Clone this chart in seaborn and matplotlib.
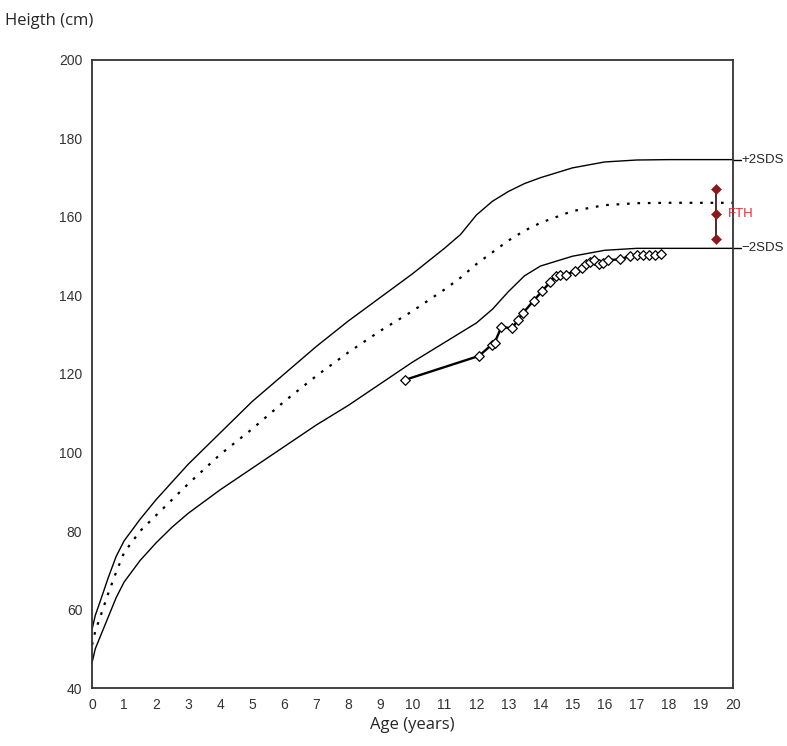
import numpy as np
import pandas as pd
import matplotlib
matplotlib.use("Agg")
import matplotlib.pyplot as plt
import seaborn as sns

# === REFERENCE CURVES ===
ref_age = [0, 0.1, 0.25, 0.5, 0.75, 1, 1.5, 2, 2.5, 3, 4, 5, 6, 7, 8, 9, 10, 11,
           11.5, 12, 12.5, 13, 13.5, 14, 15, 16, 17, 18, 20]
plus2sd = [55, 58.5, 62, 68, 73.5, 77.5, 83, 88, 92.5, 97, 105, 113, 120, 127,
           133.5, 139.5, 145.5, 152, 155.5, 160.5, 164, 166.5, 168.5, 170, 172.5,
           174, 174.5, 174.6, 174.6]
median = [51, 54.5, 58, 64, 69.5, 74.5, 80, 84, 88, 92, 99.5, 106, 113, 119.5,
          125.5, 131, 136, 141.5, 144.5, 148, 151, 154, 156.5, 158.5, 161.5, 163,
          163.5, 163.6, 163.6]
minus2sd = [46.5, 50, 53, 58, 63, 67, 72.5, 77, 81, 84.5, 90.5, 96, 101.5, 107,
            112, 117.5, 123, 128, 130.5, 133, 136.5, 141, 145, 147.5, 150, 151.5,
            152, 152, 152]

# === PATIENT MEASUREMENTS ===
pt_age = [9.77, 12.08, 12.47, 12.57, 12.78, 13.12, 13.29, 13.46, 13.79, 14.06,
          14.29, 14.47, 14.6, 14.79, 15.07, 15.31, 15.43, 15.54, 15.66, 15.82,
          15.95, 16.11, 16.47, 16.79, 17.0, 17.2, 17.39, 17.57, 17.77]
pt_height = [118.5, 124.6, 127.4, 128.0, 132.0, 131.6, 133.8, 135.6, 138.7, 141.2,
             143.3, 145.0, 145.2, 145.2, 146.3, 146.9, 148.0, 148.5, 149.0, 148.0,
             148.2, 149.0, 149.2, 150.0, 150.3, 150.3, 150.3, 150.3, 150.5]

# === TARGET HEIGHT (FTH) ===
fth_age = [19.47, 19.47, 19.47]
fth_height = [167.1, 160.8, 154.4]

sns.set_style("white")
plt.rcParams["font.family"] = ["Liberation Sans", "DejaVu Sans"]

fig = plt.figure(figsize=(7.87, 7.46), dpi=100)
ax = fig.add_axes([0.117, 0.0777, 0.814, 0.842])

ref = pd.DataFrame({"age": ref_age, "p2": plus2sd, "med": median, "m2": minus2sd})
sns.lineplot(data=ref, x="age", y="p2", ax=ax, color="black", lw=1.0)
sns.lineplot(data=ref, x="age", y="m2", ax=ax, color="black", lw=1.0)
sns.lineplot(data=ref, x="age", y="med", ax=ax, color="black", lw=1.6,
             linestyle=(0, (1.2, 3.5)))

# SDS lines run a little past the right axis
ax.plot([20, 20.25], [plus2sd[-1]] * 2, color="black", lw=1.0, clip_on=False)
ax.plot([20, 20.25], [minus2sd[-1]] * 2, color="black", lw=1.0, clip_on=False)
ax.text(20.28, plus2sd[-1], "+2SDS", va="center", ha="left", fontsize=9.5)
ax.text(20.28, minus2sd[-1], "\u22122SDS", va="center", ha="left", fontsize=9.5)

pts = pd.DataFrame({"age": pt_age, "h": pt_height})
ax.plot(pts["age"], pts["h"], color="black", lw=1.7, zorder=3)
sns.scatterplot(data=pts, x="age", y="h", ax=ax, marker="D", s=24,
                facecolor="white", edgecolor="black", linewidth=0.9, zorder=4)

ax.plot(fth_age, fth_height, color="#3a1a1a", lw=1.3, zorder=3)
sns.scatterplot(x=fth_age, y=fth_height, ax=ax, marker="D", s=26,
                color="#8b1a1a", edgecolor="#8b1a1a", zorder=4)
ax.text(19.85, fth_height[1], "FTH", color="#e03030", va="center", ha="left",
        fontsize=9.5)

ax.set_xlim(0, 20)
ax.set_ylim(40, 200)
ax.set_xticks(range(0, 21))
ax.set_yticks(range(40, 201, 20))
ax.tick_params(direction="inout", length=8, width=1.3, color="#333333",
               labelsize=10, labelcolor="#333333", pad=3)
for s in ax.spines.values():
    s.set_color("#333333")
    s.set_linewidth(1.3)

ax.set_xlabel("Age (years)", fontsize=12, fontfamily="Open Sans", labelpad=4)
ax.set_ylabel("")
fig.text(0.006, 0.982, "Heigth (cm)", fontsize=12, fontfamily="Open Sans",
         va="top", ha="left")

fig.savefig("out.png", dpi=100)
